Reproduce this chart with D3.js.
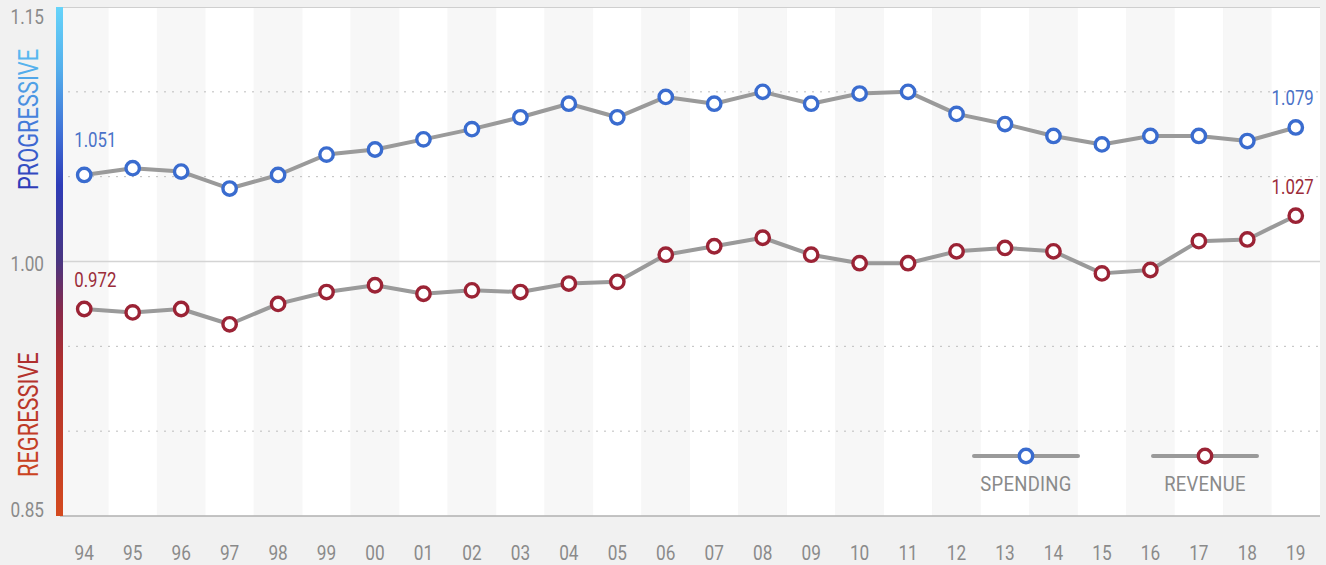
<!DOCTYPE html>
<html>
<head>
<meta charset="utf-8">
<script src="https://cdn.jsdelivr.net/npm/d3@7"></script>
<style>
  html, body { margin: 0; padding: 0; background: #f1f1f1; }
  svg { display: block; font-family: Roboto, "Noto Sans", sans-serif; }
</style>
</head>
<body>
<svg id="chart" width="1326" height="565"></svg>
<script>
// Progressivity index of state spending and revenue, 1994–2019
const years = ["94","95","96","97","98","99","00","01","02","03","04","05","06",
               "07","08","09","10","11","12","13","14","15","16","17","18","19"];
const spending = [1.051,1.055,1.053,1.043,1.051,1.063,1.066,1.072,1.078,1.085,1.093,1.085,1.097,
                  1.093,1.100,1.093,1.099,1.100,1.087,1.081,1.074,1.069,1.074,1.074,1.071,1.079];
const revenue  = [0.972,0.970,0.972,0.963,0.975,0.982,0.986,0.981,0.983,0.982,0.987,0.988,1.004,
                  1.009,1.014,1.004,0.999,0.999,1.006,1.008,1.006,0.993,0.995,1.012,1.013,1.027];
const yTicks = [0.85, 1.00, 1.15];
const yGrid = [0.90, 0.95, 1.05, 1.10];
const seriesNames = ["SPENDING", "REVENUE"];

const svg = d3.select("#chart");
const plotLeft = 60, plotRight = 1320, plotTop = 7, plotBottom = 516;

const x = d3.scaleBand().domain(years).range([plotLeft, plotRight]).padding(0);
const y = d3.scaleLinear().domain([0.85, 1.15]).range([plotBottom, plotTop]);
const cx = d => x(d) + x.bandwidth() / 2;

// condensed text helper: horizontal squeeze of Roboto
function ctext(g, str, px, py, opts) {
  const t = g.append("text")
    .attr("transform", `translate(${px},${py}) ${opts.rotate ? "rotate(-90)" : ""} scale(${opts.sx},1)`)
    .attr("font-size", opts.size)
    .attr("text-anchor", opts.anchor || "start")
    .attr("fill", opts.fill)
    .text(str);
  if (opts.ls) t.attr("letter-spacing", opts.ls);
  return t;
}

// blue → purple → red scale colours, top to bottom
const scaleStops = [[0, "#66d4fa"], [0.12, "#55b0ec"], [0.25, "#4070d6"], [0.35, "#2e3cb8"],
  [0.5, "#4a3580"], [0.6, "#8a2a4a"], [0.7, "#b0302e"], [1, "#d44a1f"]];
const defs = svg.append("defs");
function addGradient(id, x1, y1, x2, y2) {
  const g = defs.append("linearGradient").attr("id", id)
    .attr("gradientUnits", "userSpaceOnUse")
    .attr("x1", x1).attr("y1", y1).attr("x2", x2).attr("y2", y2);
  scaleStops.forEach(([o, c]) => g.append("stop").attr("offset", o).attr("stop-color", c));
}
addGradient("scaleGrad", 0, plotTop, 0, plotBottom);

// alternating column bands
svg.append("g").selectAll("rect").data(years).join("rect")
  .attr("x", d => x(d)).attr("y", plotTop)
  .attr("width", x.bandwidth()).attr("height", plotBottom - plotTop)
  .attr("fill", (d, i) => i % 2 === 0 ? "#f7f7f7" : "#ffffff");

// top border
svg.append("line").attr("x1", plotLeft).attr("x2", plotRight)
  .attr("y1", plotTop + 0.5).attr("y2", plotTop + 0.5)
  .attr("stroke", "#cfcfcf").attr("stroke-width", 1);

// dotted gridlines
svg.append("g").selectAll("line").data(yGrid).join("line")
  .attr("x1", plotLeft + 8).attr("x2", plotRight).attr("y1", d => y(d)).attr("y2", d => y(d))
  .attr("stroke", "#bdbdbd").attr("stroke-width", 1).attr("stroke-dasharray", "2,6");

// parity line at 1.00
svg.append("line").attr("x1", plotLeft).attr("x2", plotRight).attr("y1", y(1)).attr("y2", y(1))
  .attr("stroke", "#d4d4d4").attr("stroke-width", 1.5);

// baseline
svg.append("line").attr("x1", plotLeft).attr("x2", plotRight)
  .attr("y1", plotBottom).attr("y2", plotBottom)
  .attr("stroke", "#b0b0b0").attr("stroke-width", 1.5);

// gradient scale bar
svg.append("rect").attr("x", 56).attr("y", plotTop).attr("width", 7)
  .attr("height", plotBottom - plotTop).attr("fill", "url(#scaleGrad)");

// y tick labels: bottom label sits on its tick, middle centred, top hangs below
const yAxisG = svg.append("g");
const yLabelShift = [1, 9, 17];
yTicks.forEach((v, i) => ctext(yAxisG, d3.format(".2f")(v), 44, y(v) + yLabelShift[i],
  { size: 20, sx: 0.86, anchor: "end", fill: "#8a8a8a" }));

// x tick labels
const xAxisG = svg.append("g");
years.forEach(d => ctext(xAxisG, d, cx(d), 560,
  { size: 21, sx: 0.82, anchor: "middle", fill: "#8a8a8a" }));

// vertical captions, coloured along the same scale as the bar
const capG = svg.append("g");
function caption(id, str, baseX, startY, size, sx) {
  // local text x maps to screen y = startY - x * sx
  addGradient(id, (startY - plotTop) / sx, 0, (startY - plotBottom) / sx, 0);
  ctext(capG, str, baseX, startY, { size, sx, rotate: true, fill: `url(#${id})` });
}
caption("progGrad", "PROGRESSIVE", 38, 190, 28, 0.78);
caption("regGrad", "REGRESSIVE", 38, 477, 28, 0.78);

// series lines and markers
const line = d3.line().x((d, i) => cx(years[i])).y(d => y(d));
const series = [
  { name: seriesNames[0], values: spending, color: "#3a6ccf", label: "#4a72c8" },
  { name: seriesNames[1], values: revenue, color: "#9b2335", label: "#9b2c3a" }
];

series.forEach(s => {
  svg.append("path").datum(s.values).attr("d", line)
    .attr("fill", "none").attr("stroke", "#9a9a9a").attr("stroke-width", 4)
    .attr("stroke-linejoin", "round");
});
series.forEach(s => {
  svg.append("g").selectAll("circle").data(s.values).join("circle")
    .attr("cx", (d, i) => cx(years[i])).attr("cy", d => y(d)).attr("r", 6.7)
    .attr("fill", "#ffffff").attr("stroke", s.color).attr("stroke-width", 3.4);
});

// start / end value labels
const lblG = svg.append("g");
const fmt = d3.format(".3f");
const first = 0, last = years.length - 1;
ctext(lblG, fmt(spending[first]), cx(years[first]) - 10, y(spending[first]) - 28,
  { size: 21, sx: 0.8, fill: series[0].label });
ctext(lblG, fmt(revenue[first]), cx(years[first]) - 10, y(revenue[first]) - 22,
  { size: 21, sx: 0.8, fill: series[1].label });
ctext(lblG, fmt(spending[last]), cx(years[last]) + 18, y(spending[last]) - 22,
  { size: 21, sx: 0.8, anchor: "end", fill: series[0].label });
ctext(lblG, fmt(revenue[last]), cx(years[last]) + 18, y(revenue[last]) - 22,
  { size: 21, sx: 0.8, anchor: "end", fill: series[1].label });

// legend
const legendX = [1026, 1205];
const legG = svg.append("g");
series.forEach((s, i) => {
  const lx = legendX[i];
  legG.append("line").attr("x1", lx - 52).attr("x2", lx + 52).attr("y1", 456).attr("y2", 456)
    .attr("stroke", "#9a9a9a").attr("stroke-width", 4).attr("stroke-linecap", "round");
  legG.append("circle").attr("cx", lx).attr("cy", 456).attr("r", 6.7)
    .attr("fill", "#ffffff").attr("stroke", s.color).attr("stroke-width", 3.4);
  ctext(legG, s.name, lx, 491, { size: 21, sx: 0.88, anchor: "middle", fill: "#8a8a8a", ls: 0.3 });
});
</script>
</body>
</html>
